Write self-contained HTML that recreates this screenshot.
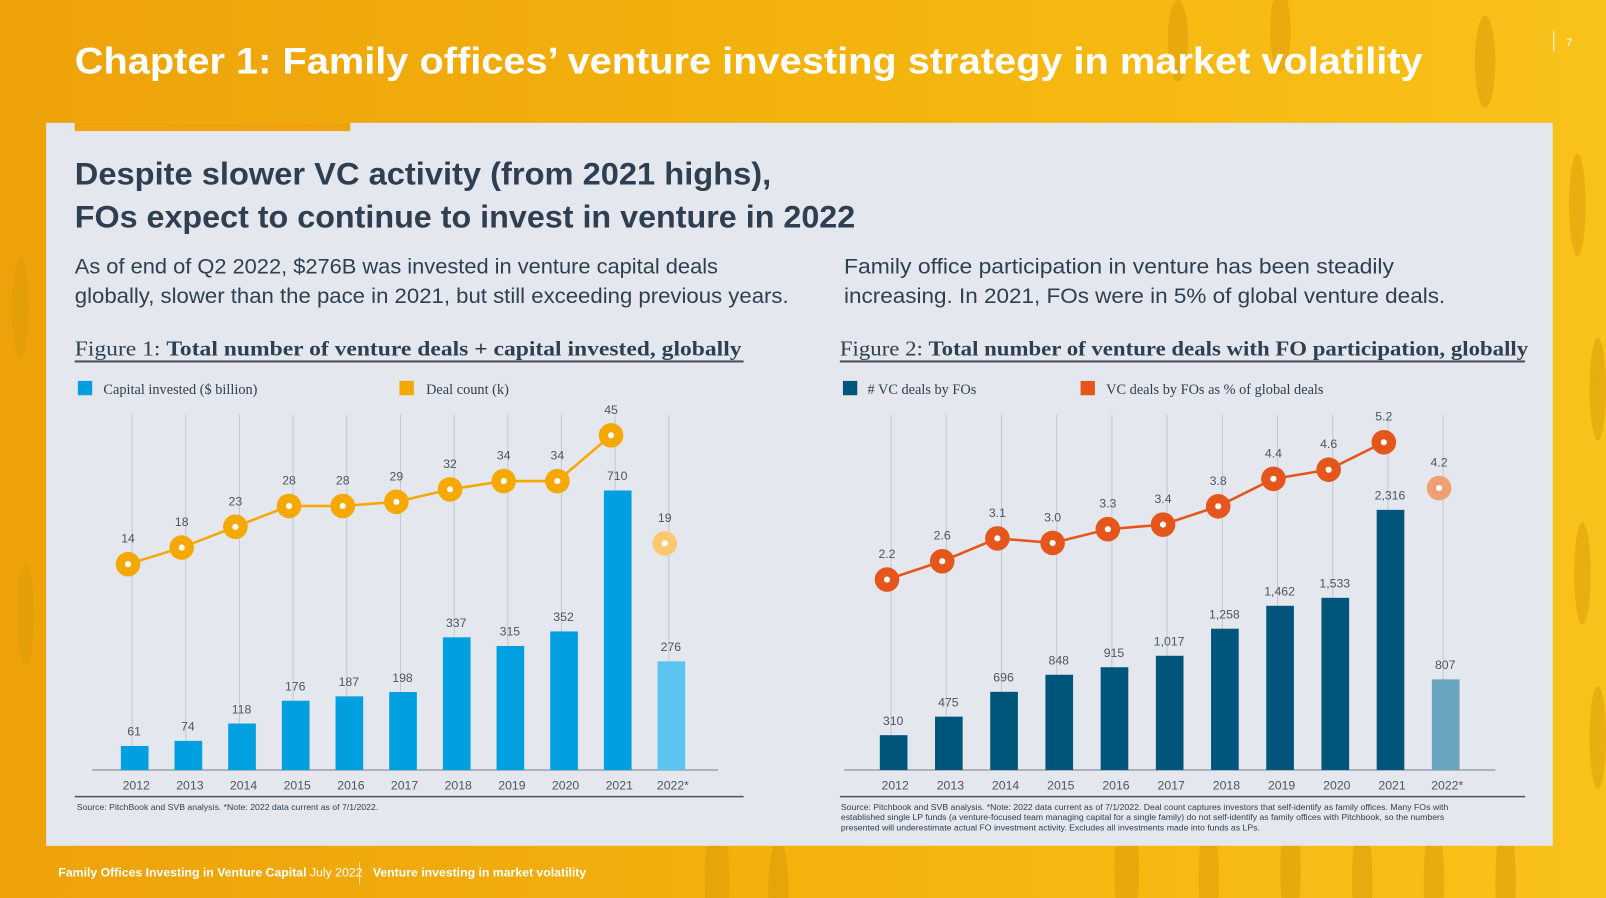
<!DOCTYPE html>
<html><head><meta charset="utf-8"><style>
html,body{margin:0;padding:0;width:1606px;height:898px;overflow:hidden;font-family:"Liberation Sans",sans-serif}
</style></head><body>
<svg width="1606" height="898" viewBox="0 0 1568 877" preserveAspectRatio="none" xmlns="http://www.w3.org/2000/svg">
<defs>
<linearGradient id="bg" x1="0" y1="0" x2="1" y2="0">
<stop offset="0" stop-color="#eda20a"/><stop offset="0.5" stop-color="#f3b20c"/><stop offset="1" stop-color="#f9c21a"/>
</linearGradient>
</defs>
<rect width="1568" height="877" fill="url(#bg)"/>
<g fill="#d99a06" opacity="0.5">
<ellipse cx="700" cy="860" rx="12" ry="60"/><ellipse cx="760" cy="870" rx="10" ry="50"/><ellipse cx="1100" cy="850" rx="12" ry="60"/><ellipse cx="1180" cy="860" rx="10" ry="60"/><ellipse cx="1260" cy="850" rx="10" ry="60"/><ellipse cx="1330" cy="860" rx="10" ry="60"/><ellipse cx="1400" cy="860" rx="10" ry="60"/><ellipse cx="1470" cy="860" rx="10" ry="60"/>
<ellipse cx="1540" cy="200" rx="8" ry="50"/><ellipse cx="1560" cy="380" rx="8" ry="50"/><ellipse cx="1545" cy="560" rx="8" ry="50"/><ellipse cx="1560" cy="720" rx="8" ry="50"/><ellipse cx="20" cy="300" rx="8" ry="50"/><ellipse cx="25" cy="600" rx="8" ry="50"/>
<ellipse cx="1150" cy="40" rx="10" ry="40"/><ellipse cx="1250" cy="30" rx="10" ry="40"/><ellipse cx="1450" cy="60" rx="10" ry="45"/>
</g>
<text x="73" y="72" fill="#fff" font-size="36" font-weight="bold" textLength="1316" lengthAdjust="spacingAndGlyphs">Chapter 1: Family offices’ venture investing strategy in market volatility</text>
<line x1="1517" y1="30" x2="1517" y2="50" stroke="#fff" stroke-width="1"/>
<text x="1529" y="45" fill="#fff" font-size="11">7</text>
<rect x="45" y="120" width="1471" height="706" fill="#e4e7ee"/>
<rect x="73" y="120" width="269" height="8" fill="#f0a30a"/>
<text x="73" y="180" fill="#2e3f52" font-size="31" font-weight="bold" textLength="680" lengthAdjust="spacingAndGlyphs">Despite slower VC activity (from 2021 highs),</text>
<text x="73" y="222" fill="#2e3f52" font-size="31" font-weight="bold" textLength="762" lengthAdjust="spacingAndGlyphs">FOs expect to continue to invest in venture in 2022</text>
<text x="73" y="267" fill="#2e3f52" font-size="21" textLength="628" lengthAdjust="spacingAndGlyphs">As of end of Q2 2022, $276B was invested in venture capital deals</text>
<text x="73" y="296" fill="#2e3f52" font-size="21" textLength="697" lengthAdjust="spacingAndGlyphs">globally, slower than the pace in 2021, but still exceeding previous years.</text>
<text x="824" y="267" fill="#2e3f52" font-size="21" textLength="537" lengthAdjust="spacingAndGlyphs">Family office participation in venture has been steadily</text>
<text x="824" y="296" fill="#2e3f52" font-size="21" textLength="587" lengthAdjust="spacingAndGlyphs">increasing. In 2021, FOs were in 5% of global venture deals.</text>
<text x="73" y="347" fill="#2e3f52" font-size="21" font-family="Liberation Serif,serif" textLength="651" lengthAdjust="spacingAndGlyphs">Figure 1: <tspan font-weight="bold">Total number of venture deals + capital invested, globally</tspan></text>
<text x="820" y="347" fill="#2e3f52" font-size="21" font-family="Liberation Serif,serif" textLength="672" lengthAdjust="spacingAndGlyphs">Figure 2: <tspan font-weight="bold">Total number of venture deals with FO participation, globally</tspan></text>
<line x1="73" y1="353" x2="726" y2="353" stroke="#4a5563" stroke-width="2"/>
<line x1="820" y1="353" x2="1489" y2="353" stroke="#4a5563" stroke-width="2"/>
<line x1="73" y1="778" x2="726" y2="778" stroke="#4a5563" stroke-width="1.5"/>
<line x1="820" y1="778" x2="1489" y2="778" stroke="#4a5563" stroke-width="1.5"/>
<rect x="76" y="372" width="14" height="14" fill="#009fe0"/>
<text x="101" y="385" fill="#2e3f52" font-size="14" font-family="Liberation Serif,serif">Capital invested ($ billion)</text>
<rect x="390" y="372" width="14" height="14" fill="#f5a800"/>
<text x="416" y="385" fill="#2e3f52" font-size="14" font-family="Liberation Serif,serif">Deal count (k)</text>
<rect x="823" y="372" width="14" height="14" fill="#00567a"/>
<text x="847" y="385" fill="#2e3f52" font-size="14" font-family="Liberation Serif,serif"># VC deals by FOs</text>
<rect x="1055" y="372" width="14" height="14" fill="#e4561b"/>
<text x="1080" y="385" fill="#2e3f52" font-size="14" font-family="Liberation Serif,serif">VC deals by FOs as % of global deals</text>
<text x="75" y="791" fill="#2e3f52" font-size="8.5">Source: PitchBook and SVB analysis. *Note: 2022 data current as of 7/1/2022.</text>
<text fill="#2e3f52" font-size="8.5"><tspan x="821" y="791">Source: Pitchbook and SVB analysis. *Note: 2022 data current as of 7/1/2022. Deal count captures investors that self-identify as family offices. Many FOs with</tspan><tspan x="821" y="801">established single LP funds (a venture-focused team managing capital for a single family) do not self-identify as family offices with Pitchbook, so the numbers</tspan><tspan x="821" y="811">presented will underestimate actual FO investment activity. Excludes all investments made into funds as LPs.</tspan></text>
<text x="57" y="856" fill="#fff" font-size="12" font-weight="bold">Family Offices Investing in Venture Capital <tspan font-weight="normal">July 2022</tspan></text>
<line x1="351" y1="842" x2="351" y2="864" stroke="#fff" stroke-opacity="0.6"/>
<text x="364" y="856" fill="#fff" font-size="12" font-weight="bold">Venture investing in market volatility</text>
<g id="chart1"></g>
<g id="chart2"></g>
</svg>
<script>
const years = ["2012","2013","2014","2015","2016","2017","2018","2019","2020","2021","2022*"];
const capital = [61,74,118,176,187,198,337,315,352,710,276];
const dealCount = [14,18,23,28,28,29,32,34,34,45,19];
const foDeals = [310,475,696,848,915,1017,1258,1462,1533,2316,807];
const foDealsLabels = ["310","475","696","848","915","1,017","1,258","1,462","1,533","2,316","807"];
const foPct = [2.2,2.6,3.1,3.0,3.3,3.4,3.8,4.4,4.6,5.2,4.2];
const foPctLabels = ["2.2","2.6","3.1","3.0","3.3","3.4","3.8","4.4","4.6","5.2","4.2"];
const NS="http://www.w3.org/2000/svg";
function mk(tag,attrs,parent){const e=document.createElementNS(NS,tag);for(const k in attrs)e.setAttribute(k,attrs[k]);parent.appendChild(e);return e;}
function draw(cfg){
  const g=document.getElementById(cfg.id);
  const base=752;
  const xs=i=>cfg.x0+i*cfg.step;
  const yb=v=>base-v*cfg.barScale;
  const yl=v=>cfg.lineBase-(v-cfg.lineRef)*cfg.lineScale;
  const ax=mk('line',{x1:cfg.axisX1,y1:base,x2:cfg.axisX2,y2:base,stroke:'#8a94a0','stroke-width':1.2},g);
  
  
  years.forEach((yr,i)=>{
    const x=xs(i);
    const gl=mk('line',{x1:x-2,y1:405,x2:x-2,y2:base,stroke:'#c3c8d0','stroke-width':1},g);
    
    
    const last=i===years.length-1;
    const v=cfg.bars[i];
    const b=mk('rect',{x:x-13,y:yb(v),width:27,height:v*cfg.barScale,fill:last?cfg.barLight:cfg.barColor},g);
    
    
    const bl=mk('text',{x:x,y:yb(v)-10,'text-anchor':'middle','font-size':12,fill:'#4a5563'},g);
    bl.textContent=cfg.barLabels[i];
    
    
    const t=mk('text',{x:x+2,y:771,'text-anchor':'middle','font-size':12,fill:'#4a5563'},g);
    t.textContent=yr;
    
    
  });
  let d='';
  for(let i=0;i<years.length-1;i++){d+=(i?'L':'M')+(xs(i)-6)+','+yl(cfg.line[i]);}
  const p=mk('path',{d:d,fill:'none',stroke:cfg.lineColor,'stroke-width':2.5},g);
  
  
  years.forEach((yr,i)=>{
    const last=i===years.length-1;
    const x=xs(i)-6,y=yl(cfg.line[i]);
    const c=mk('circle',{cx:x,cy:y,r:12,fill:last?cfg.lineLight:cfg.lineColor},g);
    
    
    mk('circle',{cx:x,cy:y,r:3,fill:'#fff'},g);
    const l=mk('text',{x:x,y:y-21,'text-anchor':'middle','font-size':12,fill:'#4a5563'},g);
    l.textContent=cfg.lineLabels[i];
    
    
  });
}
draw({id:'chart1',x0:131,step:52.4,axisX1:90,axisX2:701,bars:capital,barLabels:capital.map(String),barScale:0.3845,barColor:'#009fe0',barLight:'#5bc4f0',line:dealCount,lineLabels:dealCount.map(String),lineBase:551,lineRef:14,lineScale:4.06,lineColor:'#f5a800',lineLight:'#fbc870'});
draw({id:'chart2',x0:872,step:53.9,axisX1:824,axisX2:1460,bars:foDeals,barLabels:foDealsLabels,barScale:0.1097,barColor:'#00567a',barLight:'#6aa5c0',line:foPct,lineLabels:foPctLabels,lineBase:566,lineRef:2.2,lineScale:44.7,lineColor:'#e4561b',lineLight:'#f0a070'});
</script>
</body></html>
